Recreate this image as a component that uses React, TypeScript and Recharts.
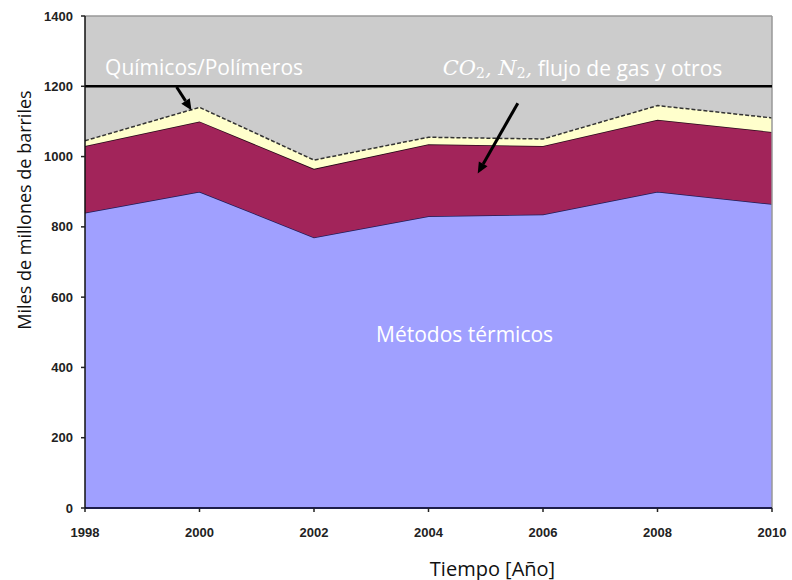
import React from 'react';
import {
  ComposedChart, Area, XAxis, YAxis, CartesianGrid, ReferenceLine, ReferenceDot,
} from 'recharts';

const years = [1998, 2000, 2002, 2004, 2006, 2008, 2010];
const thermal = [840, 900, 770, 830, 835, 900, 865];
const co2Gas = [190, 200, 195, 205, 195, 205, 205];
const chemicals = [15, 40, 25, 20, 20, 40, 40];
const yTicks = [0, 200, 400, 600, 800, 1000, 1200, 1400];

const data = years.map((year, i) => ({
  year,
  thermal: thermal[i],
  co2Gas: co2Gas[i],
  chemicals: chemicals[i],
}));

const sans = '"Open Sans", "Noto Sans", sans-serif';
const tickStyle = { fontFamily: '"Liberation Sans", Arial, sans-serif', fontSize: 13, fontWeight: 700, fill: '#222' };

const Arrow = (props: any) => {
  const { x1, y1, x2, y2 } = props;
  const dx = x2 - x1;
  const dy = y2 - y1;
  const len = Math.sqrt(dx * dx + dy * dy) || 1;
  const ux = dx / len;
  const uy = dy / len;
  const head = 11;
  const half = 5;
  const bx = x2 - ux * head;
  const by = y2 - uy * head;
  const px = -uy * half;
  const py = ux * half;
  return (
    <g>
      <line x1={x1} y1={y1} x2={bx} y2={by} stroke="#000" strokeWidth={3} />
      <polygon points={`${x2},${y2} ${bx + px},${by + py} ${bx - px},${by - py}`} fill="#000" />
    </g>
  );
};

const TextAt = (content: React.ReactNode, size = 21) => (props: any) => (
  <text
    x={props.cx}
    y={props.cy}
    textAnchor="middle"
    dominantBaseline="central"
    fill="#fff"
    fontFamily={sans}
    fontSize={size}
  >
    {content}
  </text>
);

const mathStyle = { fontFamily: '"DejaVu Serif", "Liberation Serif", serif', fontStyle: 'italic' as const };

const co2Label = (
  <>
    <tspan {...mathStyle}>CO</tspan>
    <tspan {...mathStyle} fontStyle="normal" fontSize={14} dy={5}>2</tspan>
    <tspan {...mathStyle} dy={-5}>, N</tspan>
    <tspan {...mathStyle} fontStyle="normal" fontSize={14} dy={5}>2</tspan>
    <tspan {...mathStyle} dy={-5}>,</tspan>
    <tspan> flujo de gas y otros</tspan>
  </>
);

export default function App() {
  return (
    <div style={{ position: 'absolute', left: 0, top: 0, background: '#fff' }}>
      <ComposedChart
        width={792}
        height={580}
        data={data}
        margin={{ top: 16, right: 20, bottom: 42, left: 0 }}
      >
        <CartesianGrid fill="#CCCCCC" stroke="none" horizontal={false} vertical={false} />
        <XAxis
          dataKey="year"
          type="number"
          domain={[1998, 2010]}
          ticks={years}
          tick={tickStyle}
          tickSize={4}
          tickMargin={16}
          tickLine={{ stroke: '#222', strokeWidth: 1.5 }}
          axisLine={{ stroke: '#1d1d4a', strokeWidth: 2 }}
          height={30}
          label={{
            content: (p: any) => {
              const vb = p.viewBox || {};
              return (
                <text
                  x={vb.x + vb.width / 2 + 64}
                  y={vb.y + 60}
                  textAnchor="middle"
                  dominantBaseline="central"
                  fontFamily={sans}
                  fontSize={20}
                  fill="#111"
                >
                  Tiempo [Año]
                </text>
              );
            },
          }}
        />
        <YAxis
          type="number"
          domain={[0, 1400]}
          ticks={yTicks}
          width={85}
          tick={tickStyle}
          tickSize={4}
          tickMargin={8}
          tickLine={{ stroke: '#222', strokeWidth: 1.5 }}
          axisLine={{ stroke: '#111', strokeWidth: 1.5 }}
          label={{
            content: (p: any) => {
              const vb = p.viewBox || {};
              const cx = vb.x + 24;
              const cy = vb.y + 194;
              return (
                <text
                  x={cx}
                  y={cy}
                  transform={`rotate(-90 ${cx} ${cy})`}
                  textAnchor="middle"
                  dominantBaseline="central"
                  fontFamily={sans}
                  fontSize={18}
                  fill="#111"
                >
                  Miles de millones de barriles
                </text>
              );
            },
          }}
        />
        <Area
          type="linear"
          dataKey="thermal"
          stackId="s"
          fill="#A0A0FF"
          fillOpacity={1}
          stroke="#1d1d5a"
          strokeWidth={1.5}
          isAnimationActive={false}
        />
        <Area
          type="linear"
          dataKey="co2Gas"
          stackId="s"
          fill="#A2245A"
          fillOpacity={1}
          stroke="#2a0a1a"
          strokeWidth={1.5}
          isAnimationActive={false}
        />
        <Area
          type="linear"
          dataKey="chemicals"
          stackId="s"
          fill="#FFFFCC"
          fillOpacity={1}
          stroke="#333"
          strokeDasharray="4 2"
          strokeWidth={1.5}
          isAnimationActive={false}
        />
        <ReferenceLine y={1400} stroke="#999" strokeWidth={1.5} />
        <ReferenceLine x={2010} stroke="#999" strokeWidth={1.5} />
        <ReferenceLine y={1200} stroke="#000" strokeWidth={2.5} />
        <ReferenceLine
          segment={[{ x: 1999.6, y: 1198 }, { x: 1999.86, y: 1132 }]}
          shape={Arrow}
        />
        <ReferenceLine
          segment={[{ x: 2005.56, y: 1152 }, { x: 2004.86, y: 952 }]}
          shape={Arrow}
        />
        <ReferenceDot x={2000.08} y={1255} r={0} shape={TextAt('Químicos/Polímeros')} />
        <ReferenceDot x={2006.69} y={1252} r={0} shape={TextAt(co2Label)} />
        <ReferenceDot x={2004.63} y={496} r={0} shape={TextAt('Métodos térmicos')} />
      </ComposedChart>
    </div>
  );
}
